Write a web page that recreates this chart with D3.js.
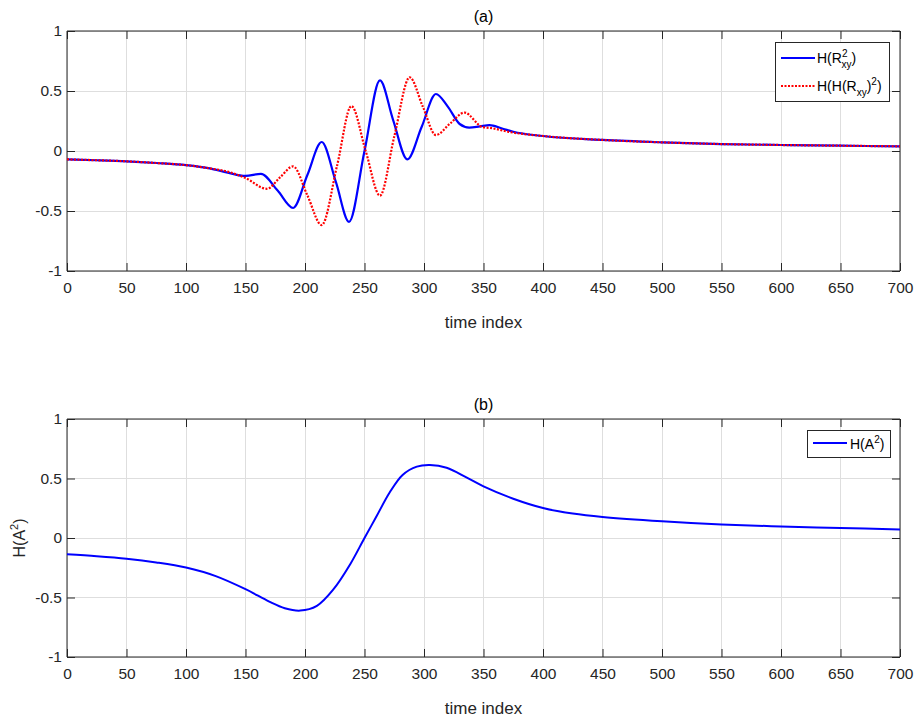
<!DOCTYPE html>
<html><head><meta charset="utf-8">
<script src="https://cdn.jsdelivr.net/npm/d3@7"></script>
<style>
body{margin:0;background:#fff;}
svg{display:block;font-family:Arial,"Liberation Sans",Helvetica,sans-serif;}
</style></head>
<body><svg id="c" width="918" height="718"></svg>
<script>
// ---- data ----
const xTicks = [0,50,100,150,200,250,300,350,400,450,500,550,600,650,700];
const yTicks = [-1,-0.5,0,0.5,1];
const yTickLabels = ["-1","-0.5","0","0.5","1"];

const timeA = [0,25,50,75,100,120,135,150,163,177,190,202,214,226,237,250,263,274,286,298,310,320,330,338,347,355,365,375,400,450,500,550,600,650,700];
const hR2 = [-0.070,-0.077,-0.086,-0.100,-0.118,-0.145,-0.180,-0.208,-0.190,-0.330,-0.475,-0.200,0.075,-0.260,-0.590,0.000,0.588,0.260,-0.070,0.200,0.475,0.370,0.225,0.195,0.205,0.215,0.190,0.160,0.125,0.092,0.072,0.058,0.050,0.044,0.039];

const timeB = [0,25,50,75,100,120,135,150,168,179,190,202,214,227,239,251,263,275,288,299,310,322,334,349,357,371,400,450,500,550,600,650,700];
const hHR2 = [-0.070,-0.077,-0.086,-0.100,-0.118,-0.145,-0.172,-0.225,-0.315,-0.220,-0.128,-0.370,-0.617,-0.120,0.375,0.000,-0.372,0.120,0.614,0.370,0.133,0.230,0.320,0.200,0.190,0.160,0.125,0.092,0.072,0.058,0.050,0.044,0.039];

const timeC = [0,25,50,75,100,125,150,170,183,196,210,224,238,250,260,271,282,294,305,319,336,350,375,400,425,450,500,550,600,650,700];
const hA2 = [-0.137,-0.153,-0.174,-0.205,-0.248,-0.320,-0.430,-0.535,-0.590,-0.610,-0.570,-0.430,-0.220,0.000,0.180,0.380,0.530,0.600,0.613,0.590,0.507,0.434,0.330,0.252,0.205,0.176,0.140,0.114,0.097,0.084,0.072];

// ---- drawing ----
const svg = d3.select("#c");
const axisCol = "#262626";
const left = 67, right = 900;

function panel(top, bottom, title){
  const x = d3.scaleLinear().domain([0,700]).range([left,right]);
  const y = d3.scaleLinear().domain([-1,1]).range([bottom,top]);
  const g = svg.append("g");
  g.append("g").selectAll("line").data(xTicks).join("line")
    .attr("x1",d=>x(d)).attr("x2",d=>x(d)).attr("y1",top).attr("y2",bottom)
    .attr("stroke","#dedede").attr("stroke-width",1).attr("shape-rendering","crispEdges");
  g.append("g").selectAll("line").data(yTicks).join("line")
    .attr("y1",d=>y(d)).attr("y2",d=>y(d)).attr("x1",left).attr("x2",right)
    .attr("stroke","#dedede").attr("stroke-width",1).attr("shape-rendering","crispEdges");
  const tl = 8;
  const xb = d3.axisBottom(x).tickValues(xTicks).tickSize(-tl).tickPadding(11).tickFormat(d3.format("d"));
  const xt = d3.axisTop(x).tickValues(xTicks).tickSize(-tl).tickFormat("");
  const yl = d3.axisLeft(y).tickValues(yTicks).tickSize(-tl).tickPadding(5).tickFormat((d,i)=>yTickLabels[i]);
  const yr = d3.axisRight(y).tickValues(yTicks).tickSize(-tl).tickFormat("");
  const style = s => { s.selectAll("path").attr("stroke",axisCol).attr("stroke-width",1);
    s.selectAll("line").attr("stroke",axisCol);
    s.selectAll("text").attr("fill",axisCol).attr("font-size",15.5).attr("font-family","Arial, 'Liberation Sans', sans-serif"); };
  g.append("g").attr("transform",`translate(0,${bottom})`).call(xb).call(style).call(s=>s.selectAll("path").attr("d",`M${left},0H${right}`));
  g.append("g").attr("transform",`translate(0,${top})`).call(xt).call(style).call(s=>s.selectAll("path").attr("d",`M${left},0H${right}`));
  g.append("g").attr("transform",`translate(${left},0)`).call(yl).call(style).call(s=>s.selectAll("path").attr("d",`M0,${top}V${bottom}`));
  g.append("g").attr("transform",`translate(${right},0)`).call(yr).call(style).call(s=>s.selectAll("path").attr("d",`M0,${top}V${bottom}`));
  svg.append("text").attr("x",(left+right)/2).attr("y",top-9).attr("text-anchor","middle")
    .attr("font-size",16).attr("fill","#000").text(title);
  svg.append("text").attr("x",(left+right)/2).attr("y",bottom+57).attr("text-anchor","middle")
    .attr("font-size",17).attr("fill",axisCol).text("time index");
  return {x,y};
}

const pA = panel(31,271,"(a)");
const pB = panel(419,657,"(b)");

function drawLine(p, xs, ys, color, dash, w, curve){
  const line = d3.line().x(d=>p.x(d[0])).y(d=>p.y(d[1])).curve(curve);
  svg.append("path").datum(xs.map((t,i)=>[t,ys[i]]))
    .attr("d",line).attr("fill","none").attr("stroke",color).attr("stroke-width",w)
    .attr("stroke-dasharray",dash).attr("stroke-linecap","butt").attr("stroke-linejoin","round");
}
drawLine(pA, timeA, hR2, "#0000ff", null, 2.2, d3.curveMonotoneX);
drawLine(pA, timeB, hHR2, "#ff0000", "2,1.5", 2.2, d3.curveMonotoneX);
drawLine(pB, timeC, hA2, "#0000ff", null, 2, d3.curveCatmullRom.alpha(0.5));

function legendBox(x0,y0,w,h){
  svg.append("rect").attr("x",x0).attr("y",y0).attr("width",w).attr("height",h)
    .attr("fill","#fff").attr("stroke","#262626").attr("stroke-width",1).attr("shape-rendering","crispEdges");
}
legendBox(775,42,114,59);
svg.append("line").attr("x1",781).attr("x2",815).attr("y1",58).attr("y2",58).attr("stroke","#0000ff").attr("stroke-width",2);
svg.append("line").attr("x1",781).attr("x2",815).attr("y1",86).attr("y2",86).attr("stroke","#ff0000").attr("stroke-width",2).attr("stroke-dasharray","2,1.5");
const t1 = svg.append("text").attr("x",817).attr("y",63).attr("font-size",14).attr("fill","#000");
t1.append("tspan").text("H(R");
t1.append("tspan").attr("font-size",10).attr("dy",-6).text("2");
t1.append("tspan").attr("font-size",10).attr("dx",-6).attr("dy",11).text("xy");
t1.append("tspan").attr("dy",-5).text(")");
const t2 = svg.append("text").attr("x",817).attr("y",91).attr("font-size",14).attr("fill","#000");
t2.append("tspan").text("H(H(R");
t2.append("tspan").attr("font-size",10).attr("dy",5).text("xy");
t2.append("tspan").attr("dy",-5).text(")");
t2.append("tspan").attr("font-size",10).attr("dy",-6).text("2");
t2.append("tspan").attr("dy",6).text(")");

legendBox(807,430,83,27);
svg.append("line").attr("x1",813).attr("x2",847).attr("y1",443).attr("y2",443).attr("stroke","#0000ff").attr("stroke-width",2);
const t3 = svg.append("text").attr("x",850).attr("y",449).attr("font-size",14).attr("fill","#000");
t3.append("tspan").text("H(A");
t3.append("tspan").attr("font-size",10).attr("dy",-6).text("2");
t3.append("tspan").attr("dy",6).text(")");

const ylab = svg.append("text").attr("transform","translate(25,538) rotate(-90)").attr("text-anchor","middle")
  .attr("font-size",16).attr("fill",axisCol);
ylab.append("tspan").text("H(A");
ylab.append("tspan").attr("font-size",11).attr("dy",-7).text("2");
ylab.append("tspan").attr("dy",7).text(")");
</script></body></html>
